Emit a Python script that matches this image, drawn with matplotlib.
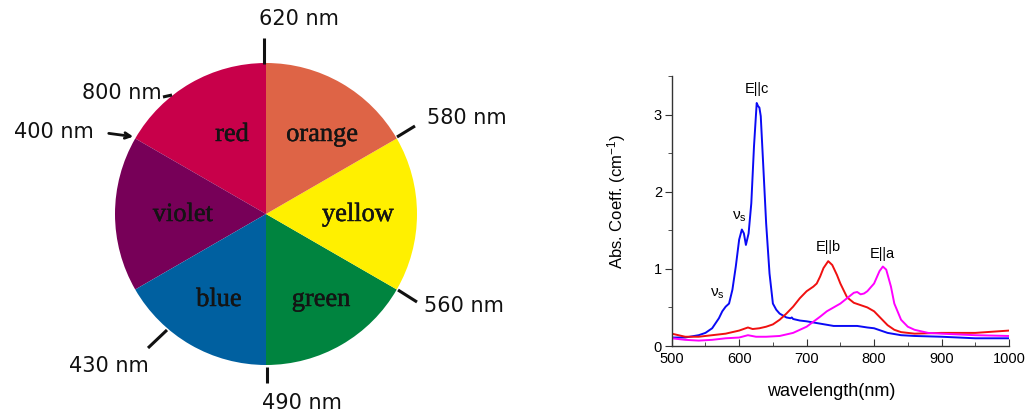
import matplotlib
matplotlib.use("Agg")
import matplotlib.pyplot as plt
import matplotlib.patheffects as pe
import numpy as np

plt.rcParams['font.family'] = ['Liberation Sans', 'DejaVu Sans']
plt.rcParams['mathtext.fontset'] = 'custom'
plt.rcParams['mathtext.rm'] = 'Liberation Sans'
plt.rcParams['mathtext.it'] = 'Liberation Sans:italic'

# ---------------- colour wheel data ----------------
wheel_names = ['red', 'violet', 'blue', 'green', 'yellow', 'orange']
wheel_share = [1, 1, 1, 1, 1, 1]
wheel_colors = ['#C8004A', '#770058', '#0060A0', '#00843F', '#FFF000', '#DE6446']
boundary_labels = ['620 nm', '580 nm', '560 nm', '490 nm', '430 nm', '400 nm', '800 nm']

# ---------------- spectra data ----------------
wl_c = [500, 520, 540, 550, 560, 570, 575, 580, 585, 590, 595, 600, 604, 607, 610, 614,
        618, 622, 626, 628, 630, 632, 636, 640, 645, 650, 655, 660, 670, 676, 678, 680,
        690, 700, 720, 740, 760, 775, 790, 800, 820, 840, 860, 900, 950, 1000]
abs_c = [0.11, 0.11, 0.14, 0.17, 0.23, 0.36, 0.45, 0.51, 0.55, 0.73, 1.03, 1.38, 1.51,
         1.46, 1.31, 1.46, 1.85, 2.59, 3.15, 3.11, 3.09, 2.98, 2.29, 1.59, 0.94, 0.55,
         0.47, 0.42, 0.37, 0.36, 0.37, 0.35, 0.33, 0.32, 0.29, 0.26, 0.26, 0.26, 0.24,
         0.23, 0.17, 0.14, 0.13, 0.12, 0.10, 0.10]

wl_b = [500, 510, 520, 540, 560, 580, 600, 613, 620, 630, 640, 650, 660, 670, 680, 690,
        700, 710, 715, 720, 725, 732, 738, 745, 750, 760, 770, 780, 790, 800, 810, 820,
        830, 840, 860, 900, 950, 1000]
abs_b = [0.16, 0.14, 0.12, 0.12, 0.14, 0.16, 0.20, 0.24, 0.22, 0.23, 0.25, 0.28, 0.34,
         0.42, 0.51, 0.62, 0.71, 0.77, 0.81, 0.90, 1.01, 1.10, 1.05, 0.92, 0.81, 0.63,
         0.56, 0.53, 0.50, 0.45, 0.36, 0.27, 0.21, 0.18, 0.16, 0.17, 0.17, 0.20]

wl_a = [500, 520, 540, 560, 580, 600, 613, 625, 640, 660, 680, 700, 720, 730, 740, 750,
        760, 770, 775, 780, 785, 790, 800, 808, 813, 818, 825, 830, 840, 850, 860, 880,
        900, 950, 1000]
abs_a = [0.10, 0.08, 0.07, 0.08, 0.10, 0.11, 0.14, 0.12, 0.12, 0.13, 0.17, 0.25, 0.38,
         0.45, 0.50, 0.55, 0.62, 0.69, 0.70, 0.67, 0.68, 0.71, 0.81, 0.97, 1.03, 0.99,
         0.77, 0.55, 0.34, 0.25, 0.21, 0.17, 0.16, 0.14, 0.13]

x_ticks = [500, 600, 700, 800, 900, 1000]
y_ticks = [0, 1, 2, 3]

W, H = 1028, 417
fig = plt.figure(figsize=(W / 100, H / 100), dpi=100)

# ================= left: colour wheel (pixel coordinates, y up) =================
axw = fig.add_axes([0, 0, 520 / W, 1])
cx, cy, R = 266, H - 214, 151
axw.pie(wheel_share, colors=wheel_colors, startangle=90, counterclock=True,
        center=(cx, cy), radius=R, frame=True,
        wedgeprops=dict(linewidth=0))
axw.set_xlim(0, 520)
axw.set_ylim(0, H)
axw.set_aspect('auto')
axw.axis('off')

name_pos = {'red': (232, 135), 'orange': (322, 135), 'violet': (183, 215),
            'yellow': (358, 215), 'blue': (219, 300), 'green': (321, 300)}
for nm in wheel_names:
    px, py = name_pos[nm]
    axw.text(px, H - py, nm, family=['Liberation Serif'], fontsize=19,
             color='#141414', ha='center', va='center',
             path_effects=[pe.withStroke(linewidth=0.35, foreground='#141414')])

# boundary tick marks (image coords)
tick_lines = [((264, 38), (264, 64)), ((397, 137), (415, 126)), ((398, 290), (417, 302)),
              ((267, 367), (267, 383)), ((148, 348), (167, 330)), ((163, 97), (172, 95))]
for (x0, y0), (x1, y1) in tick_lines:
    axw.plot([x0, x1], [H - y0, H - y1], color='#111111', lw=2.2, solid_capstyle='butt')
axw.annotate('', xy=(136, H - 137), xytext=(106, H - 133),
             arrowprops=dict(arrowstyle='->', color='#111111', lw=2.0))

label_pos = [(299, 19), (467, 118), (464, 306), (302, 403), (109, 366), (54, 132), (122, 93)]
for txt, (px, py) in zip(boundary_labels, label_pos):
    axw.text(px, H - py, txt, family=['DejaVu Sans'], fontsize=15, color='#111111',
             ha='center', va='center')

# ================= right: absorption spectra =================
x0p, x1p, ytop, ybot = 671.7, 1009, 76, 346
ax = fig.add_axes([x0p / W, (H - ybot) / H, (x1p - x0p) / W, (ybot - ytop) / H])
ax.plot(wl_c, abs_c, color='#0A0AF5', lw=1.4)
ax.plot(wl_b, abs_b, color='#F01010', lw=1.4)
ax.plot(wl_a, abs_a, color='#FF00FF', lw=1.4)
ax.set_xlim(500, 1000)
ax.set_ylim(0, 3.5)
ax.set_xticks(x_ticks)
ax.set_yticks(y_ticks)
ax.set_xticks(np.arange(550, 1000, 100), minor=True)
ax.set_yticks([0.5, 1.5, 2.5, 3.5], minor=True)
for s in ['top', 'right']:
    ax.spines[s].set_visible(False)
for s in ['left', 'bottom']:
    ax.spines[s].set_color('#333333')
    ax.spines[s].set_linewidth(1.0)
ax.tick_params(axis='x', which='major', direction='in', length=5, labelsize=10.5, pad=4, color='#333333')
ax.tick_params(axis='x', which='minor', direction='in', length=3, color='#333333')
ax.tick_params(axis='y', which='major', direction='out', length=5, labelsize=10.5, pad=2, color='#333333')
ax.tick_params(axis='y', which='minor', direction='out', length=3, color='#333333')
ax.set_xlabel('wavelength(nm)', fontsize=13)
ax.xaxis.set_label_coords((831 - x0p) / (x1p - x0p), -(383 - ybot) / (ybot - ytop), transform=ax.transAxes)
ax.set_ylabel(r'Abs. Coeff. (cm$^{-1}$)', fontsize=12)
ax.yaxis.set_label_coords(-(x0p - 628) / (x1p - x0p), (ybot - 202) / (ybot - ytop), transform=ax.transAxes)

ax.text(626, 3.33, 'E||c', fontsize=10.5, ha='center', va='center')
ax.text(732, 1.28, 'E||b', fontsize=10.5, ha='center', va='center')
ax.text(812, 1.19, 'E||a', fontsize=10.5, ha='center', va='center')
ax.text(601, 1.68, r'ν$_\mathrm{s}$', fontsize=11, ha='center', va='center')
ax.text(567, 0.68, r'ν$_\mathrm{s}$', fontsize=11, ha='center', va='center')

fig.savefig('out.png', dpi=100)
